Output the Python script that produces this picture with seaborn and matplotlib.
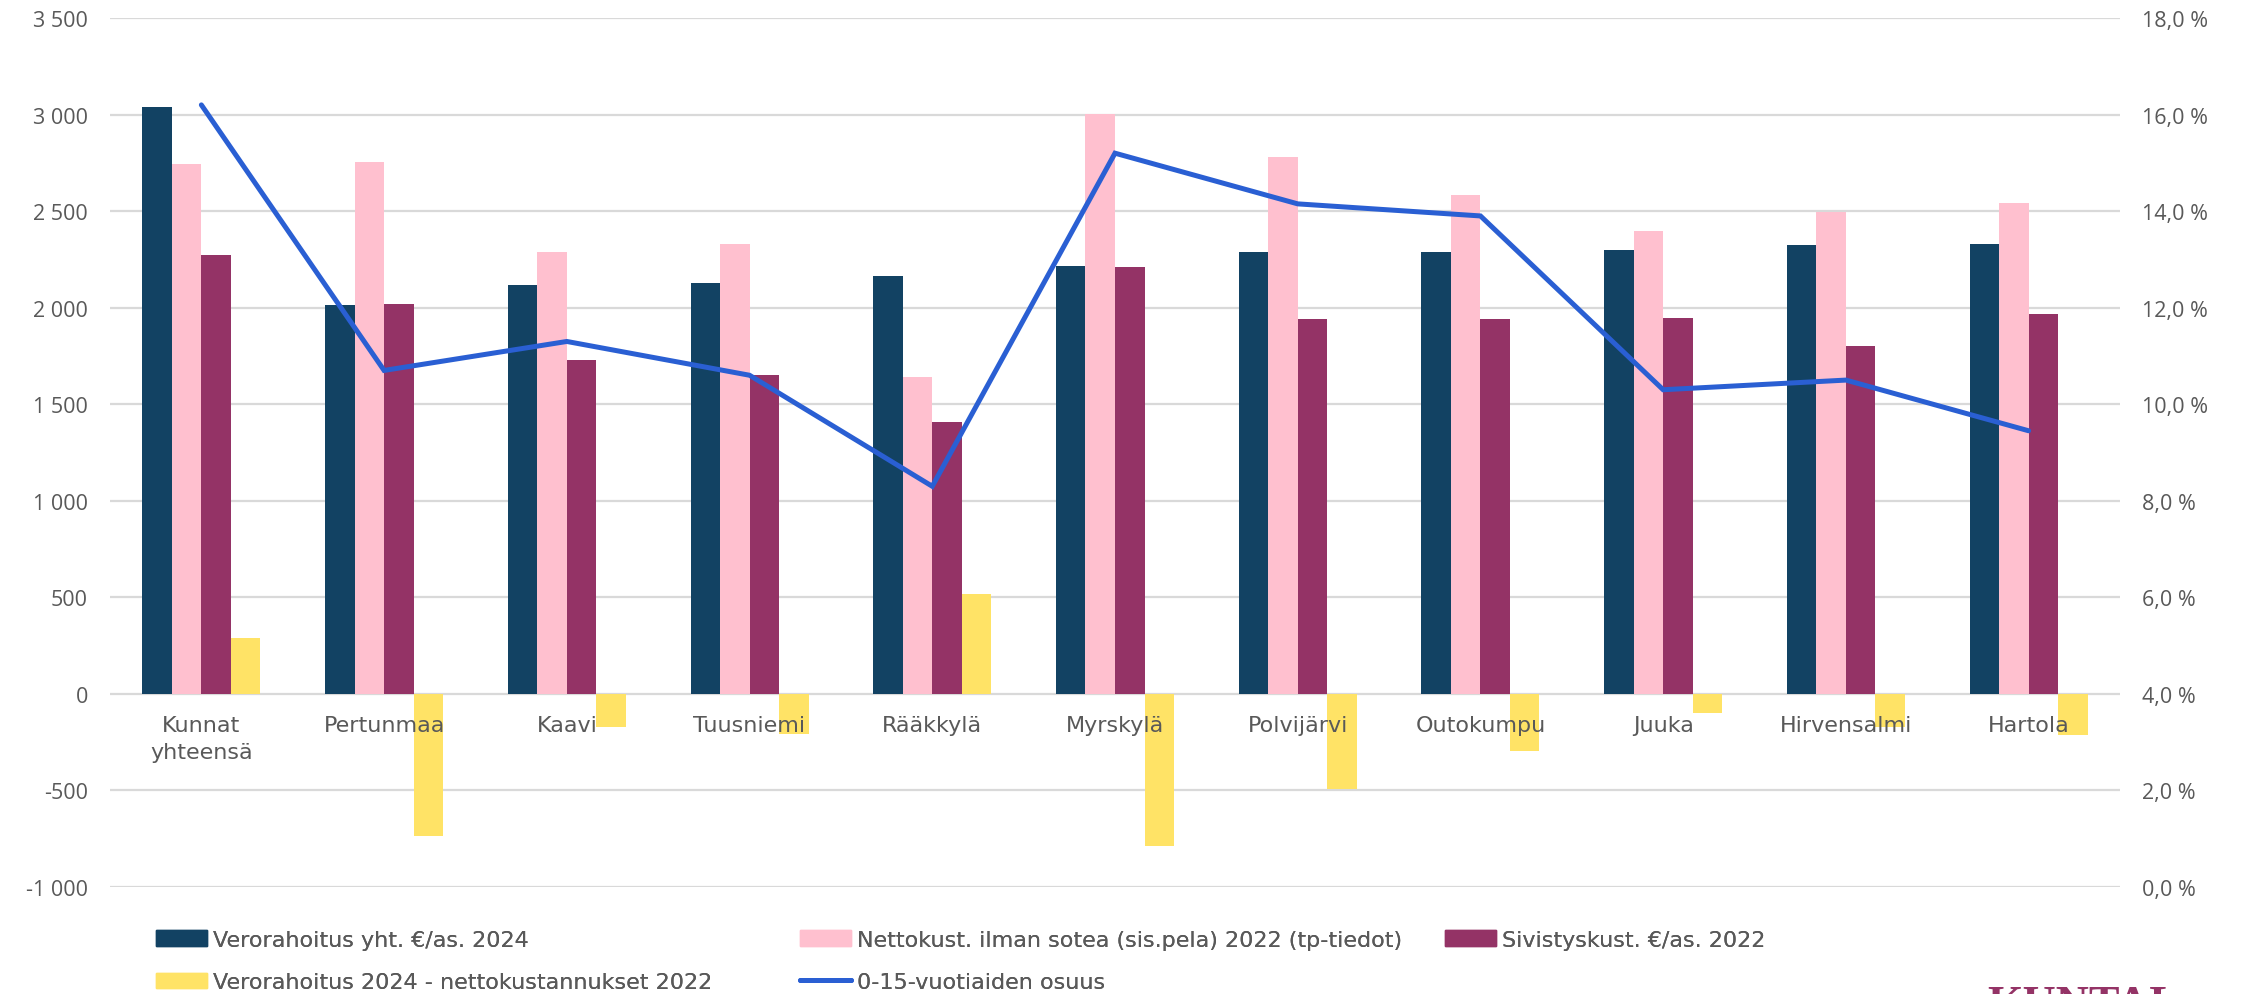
import numpy as np
import pandas as pd
import matplotlib
matplotlib.use("Agg")
import matplotlib.pyplot as plt
from matplotlib.ticker import FuncFormatter, MultipleLocator
from matplotlib.lines import Line2D
from matplotlib.patches import Patch
import seaborn as sns

# --- data -------------------------------------------------------------
categories = ["Kunnat\nyhteensä", "Pertunmaa", "Kaavi", "Tuusniemi", "Rääkkylä",
              "Myrskylä", "Polvijärvi", "Outokumpu", "Juuka", "Hirvensalmi", "Hartola"]
verorahoitus_2024 = [3040, 2016, 2118, 2127, 2165, 2216, 2287, 2287, 2301, 2325, 2330]
nettokust_2022 = [2746, 2756, 2290, 2330, 1642, 3004, 2778, 2583, 2399, 2496, 2540]
sivistyskust_2022 = [2275, 2020, 1728, 1653, 1406, 2211, 1939, 1939, 1949, 1804, 1965]
erotus = [290, -738, -174, -207, 517, -788, -493, -298, -98, -172, -212]
osuus_0_15 = [16.2, 10.7, 11.3, 10.6, 8.3, 15.2, 14.15, 13.9, 10.3, 10.5, 9.45]

series_names = [
    "Verorahoitus yht. €/as. 2024",
    "Nettokust. ilman sotea (sis.pela) 2022 (tp-tiedot)",
    "Sivistyskust. €/as. 2022",
    "Verorahoitus 2024 - nettokustannukset 2022",
]
line_name = "0-15-vuotiaiden osuus"

colors = ["#124263", "#FFC0CF", "#943366", "#FFE366"]
line_color = "#2A5FD3"
text_color = "#595959"
grid_color = "#D9D9D9"

# long-form table for seaborn
bars = pd.DataFrame({
    "kunta": np.tile(categories, 4),
    "sarja": np.repeat(series_names, len(categories)),
    "arvo": verorahoitus_2024 + nettokust_2022 + sivistyskust_2022 + erotus,
})
line_df = pd.DataFrame({"pos": np.arange(len(categories)), "osuus": osuus_0_15})

# --- figure -----------------------------------------------------------
sns.set_theme(style="white")
plt.rcParams["font.family"] = ["Open Sans", "DejaVu Sans"]
fs = 15.5
label_font = ["DejaVu Sans"]
label_fs = 16

W, H = 2242, 995
fig = plt.figure(figsize=(W / 100, H / 100), dpi=100)
left, right, top, bottom = 110, 2120, 19, 888
ax = fig.add_axes([left / W, 1 - bottom / H, (right - left) / W, (bottom - top) / H])

sns.barplot(data=bars, x="kunta", y="arvo", hue="sarja", hue_order=series_names,
            palette=colors, width=0.646, gap=0, linewidth=0, saturation=1,
            dodge=True, legend=False, ax=ax, zorder=2)

ax.set_xlim(-0.5, len(categories) - 0.5)
ax.set_ylim(-1000, 3500)
ax.yaxis.set_major_locator(MultipleLocator(500))
ax.yaxis.set_major_formatter(FuncFormatter(lambda v, p: f"{int(v):,}".replace(",", " ")))
ax.grid(axis="y", color=grid_color, linewidth=1.6, zorder=0)
ax.set_axisbelow(True)
ax.set_xlabel("")
ax.set_ylabel("")
ax.set_xticks([])
for s in ax.spines.values():
    s.set_visible(False)
ax.tick_params(axis="y", length=0, pad=16, labelsize=fs, labelcolor=text_color)

# category labels sit just below the zero line
for i, name in enumerate(categories):
    ax.annotate(name, xy=(i, 0), xycoords="data", xytext=(0, -15),
                textcoords="offset points", ha="center", va="top",
                fontsize=label_fs, color=text_color, linespacing=1.45,
                family=label_font)

# secondary axis for the share of 0-15 year olds
ax2 = ax.twinx()
sns.lineplot(data=line_df, x="pos", y="osuus", color=line_color, linewidth=3.6,
             ax=ax2, legend=False, solid_joinstyle="miter")
ax2.set_ylim(0, 18)
ax2.yaxis.set_major_locator(MultipleLocator(2))
ax2.yaxis.set_major_formatter(FuncFormatter(lambda v, p: f"{v:.1f}".replace(".", ",") + " %"))
ax2.set_xlim(-0.5, len(categories) - 0.5)
ax2.set_ylabel("")
ax2.set_xlabel("")
for s in ax2.spines.values():
    s.set_visible(False)
ax2.tick_params(axis="y", length=0, pad=16, labelsize=fs, labelcolor=text_color)
ax2.grid(False)

# legend: three columns, filled row by row
h = [Patch(color=c) for c in colors]
hl = Line2D([0], [0], color=line_color, linewidth=3.6)
legend_cols = [
    (156, [h[0], h[3]], [series_names[0], series_names[3]]),
    (800, [h[1], hl], [series_names[1], line_name]),
    (1445, [h[2]], [series_names[2]]),
]
for x0, hs, ls in legend_cols:
    leg = fig.legend(hs, ls, ncol=1, loc="upper left",
                     bbox_to_anchor=(x0 / W, 1 - 931 / H), frameon=False,
                     prop={"family": label_font, "size": label_fs},
                     labelcolor=text_color, handlelength=2.3, handleheight=0.7,
                     handletextpad=0.25, labelspacing=1.0,
                     borderpad=0, borderaxespad=0)
    fig.add_artist(leg)

# logo text at the lower right corner
fig.text(1987 / W, 1 - 986 / H, "KUNTAL", fontsize=33, color="#943366",
         family=["Liberation Serif", "DejaVu Serif"], fontweight="bold",
         ha="left", va="top")

fig.savefig("out.png", dpi=100)
